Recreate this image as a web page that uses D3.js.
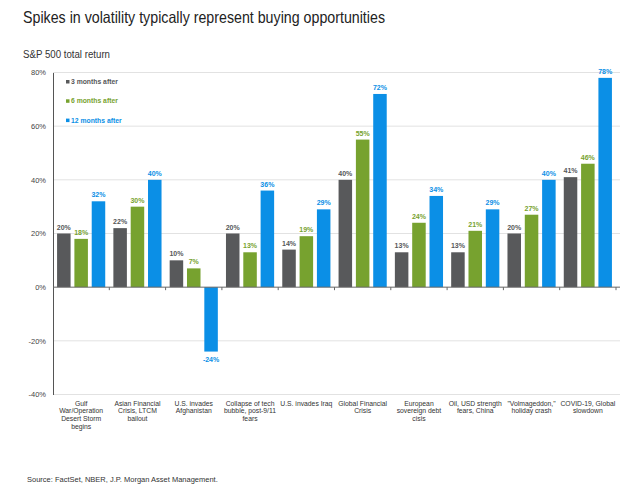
<!DOCTYPE html>
<html><head><meta charset="utf-8">
<script src="https://cdn.jsdelivr.net/npm/d3@7"></script>
<style>body{margin:0;background:#fff;}svg{display:block;font-family:"Liberation Sans",Arial,sans-serif;}</style>
</head><body><svg id="c" width="630" height="489"></svg>
<script>
const categories = [
  ["Gulf","War/Operation","Desert Storm","begins"],
  ["Asian Financial","Crisis, LTCM","bailout"],
  ["U.S. invades","Afghanistan"],
  ["Collapse of tech","bubble, post-9/11","fears"],
  ["U.S. invades Iraq"],
  ["Global Financial","Crisis"],
  ["European","sovereign debt","cisis"],
  ["Oil, USD strength","fears, China"],
  ["\"Volmageddon,\"","holiday crash"],
  ["COVID-19, Global","slowdown"]
];
const seriesNames = ["3 months after","6 months after","12 months after"];
const threeMonths = [20,22,10,20,14,40,13,13,20,41];
const sixMonths = [18,30,7,13,19,55,24,21,27,46];
const twelveMonths = [32,40,-24,36,29,72,34,29,40,78];
const yTicks = [-40,-20,0,20,40,60,80];
const colors = ["#58595b","#77a22f","#0b8fe6"];
const textColors = ["#555759","#77a22f","#0b8fe6"];

const series = [threeMonths, sixMonths, twelveMonths];
const svg = d3.select("#c");
const mLeft = 53, mRight = 616, mTop = 72.5, mBottom = 394.5;

const x0 = d3.scaleBand().domain(d3.range(categories.length)).range([mLeft, mRight]);
const x1 = d3.scaleBand().domain([0,1,2]).range([0, x0.bandwidth()]).paddingInner(0.22).paddingOuter(0.235);
const y = d3.scaleLinear().domain([-40, 80]).range([mBottom, mTop]);

svg.append("text").attr("x",23).attr("y",23).attr("font-size",16.5).attr("fill","#222")
  .attr("textLength",362).attr("lengthAdjust","spacingAndGlyphs")
  .text("Spikes in volatility typically represent buying opportunities");
svg.append("text").attr("x",23).attr("y",58).attr("font-size",10).attr("fill","#333")
  .attr("textLength",87).attr("lengthAdjust","spacingAndGlyphs")
  .text("S&P 500 total return");

// gridlines
svg.append("g").selectAll("line").data(yTicks.filter(t=>t!==0)).join("line")
  .attr("x1",mLeft).attr("x2",mRight+4).attr("y1",d=>y(d)).attr("y2",d=>y(d))
  .attr("stroke","#e2e2e2").attr("stroke-width",1);

// y axis labels
const yAxis = d3.axisLeft(y).tickValues(yTicks).tickFormat(d=>d+"%").tickSize(0).tickPadding(7);
const gy = svg.append("g").attr("transform",`translate(${mLeft},0)`).call(yAxis);
gy.select(".domain").attr("stroke","#555").attr("stroke-width",1);
gy.selectAll("text").attr("font-size",7.5).attr("fill","#444").attr("font-family","Liberation Sans, Arial, sans-serif");

// bars
series.forEach((vals, s) => {
  svg.append("g").selectAll("rect").data(vals).join("rect")
    .attr("x",(d,i)=>x0(i)+x1(s)).attr("width",x1.bandwidth())
    .attr("y",d=>y(Math.max(0,d))).attr("height",d=>Math.abs(y(d)-y(0)))
    .attr("fill",colors[s]);
  svg.append("g").selectAll("text").data(vals).join("text")
    .attr("x",(d,i)=>x0(i)+x1(s)+x1.bandwidth()/2)
    .attr("y",d=> d>=0 ? y(d)-4 : y(d)+10)
    .attr("text-anchor","middle").attr("font-size",7).attr("font-weight","bold")
    .attr("fill",textColors[s]).text(d=>d+"%");
});

// zero axis with ticks
svg.append("line").attr("x1",mLeft).attr("x2",mRight+4).attr("y1",y(0)).attr("y2",y(0)).attr("stroke","#666");
svg.append("g").selectAll("line").data(d3.range(1,categories.length+1)).join("line")
  .attr("x1",d=>mLeft + d*x0.step()).attr("x2",d=>mLeft + d*x0.step())
  .attr("y1",y(0)).attr("y2",y(0)+3).attr("stroke","#666");

// category labels
const gl = svg.append("g");
categories.forEach((lines,i)=>{
  const t = gl.append("text").attr("text-anchor","middle").attr("font-size",6.8).attr("fill","#333");
  lines.forEach((ln,k)=>{
    t.append("tspan").attr("x",x0(i)+x0.bandwidth()/2).attr("y",405.5+k*7.9).text(ln);
  });
});

// legend
const lg = svg.append("g");
seriesNames.forEach((n,s)=>{
  const yy = 82.5 + s*19.3;
  lg.append("rect").attr("x",66).attr("y",yy-2.5).attr("width",3.5).attr("height",3.5).attr("fill",colors[s]);
  lg.append("text").attr("x",71).attr("y",yy+1.5).attr("font-size",6.8).attr("font-weight","bold")
    .attr("fill",textColors[s]).text(n);
});

svg.append("text").attr("x",27).attr("y",482).attr("font-size",7.5).attr("fill","#333")
  .text("Source: FactSet, NBER, J.P. Morgan Asset Management.");
</script></body></html>
